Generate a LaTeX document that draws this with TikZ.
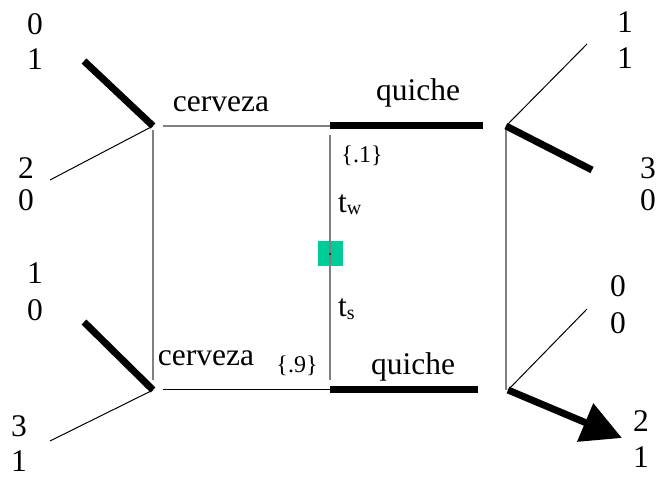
\documentclass[tikz,border=0pt]{standalone}
\usepackage{fontspec}
\setmainfont{Liberation Serif}
\usetikzlibrary{arrows.meta}
\definecolor{greensq}{RGB}{0,204,153}
\definecolor{linegray}{RGB}{128,128,128}
\begin{document}
\begin{tikzpicture}[x=1pt,y=-1pt,
  txt/.style={inner sep=0pt, font=\fontsize{31.5}{37}\selectfont},
  small/.style={inner sep=0pt, font=\fontsize{24}{28}\selectfont},
  thickline/.style={line width=7pt},
  thinline/.style={line width=1pt, black},
  grayline/.style={line width=1.5pt, linegray}]
\useasboundingbox (0,0) rectangle (659,478);
% key points
\coordinate (LT) at (153,126);
\coordinate (LB) at (153,390);
\coordinate (RT) at (506,126);
\coordinate (RB) at (508,390);
\coordinate (MT) at (330,126);
\coordinate (MB) at (330,390);
\coordinate (TL) at (163,126);
\coordinate (TR) at (483,126);
\coordinate (BL) at (163,390);
\coordinate (BR) at (478,390);
\coordinate (a1) at (84,61);
\coordinate (a2) at (50,180);
\coordinate (b1) at (84,322);
\coordinate (b2) at (50,441);
\coordinate (c1) at (587,44);
\coordinate (c2) at (592,170);
\coordinate (d1) at (587,309);
\coordinate (d2) at (622,438);
\coordinate (v1t) at (153,130);
\coordinate (v1b) at (153,380);
\coordinate (v2t) at (330,135);
\coordinate (v2b) at (330,380);
\coordinate (v3t) at (506,130);
\coordinate (v3b) at (506,390);
% nature node
\node[fill=greensq, minimum size=25pt, inner sep=0pt] (N) at (330,254) {};
% information sets (gray verticals)
\draw[grayline] (v1t) -- (v1b);
\draw[grayline] (v2t) -- (v2b);
\draw[grayline] (v3t) -- (v3b);
\fill[black] (N.center) circle (1.2pt);
% horizontal moves
\draw[grayline] (TL) -- (MT);
\draw[thickline] (MT) -- (TR);
\draw[thinline] (BL) -- (MB);
\draw[thickline] (MB) -- (BR);
% receiver moves
\draw[thickline] (a1) -- (LT);
\draw[thinline] (LT) -- (a2);
\draw[thickline] (b1) -- (LB);
\draw[thinline] (LB) -- (b2);
\draw[thinline] (RT) -- (c1);
\draw[thickline] (RT) -- (c2);
\draw[thinline] (RB) -- (d1);
\draw[thickline, -{Triangle[length=40pt,width=40pt]}] (RB) -- (d2);
% payoffs
\node[txt] (p1a) at (35,24) {0};
\node[txt] (p1b) at (35,59) {1};
\node[txt] (p2a) at (26,168) {2};
\node[txt] (p2b) at (26,200) {0};
\node[txt] (p3a) at (35,273) {1};
\node[txt] (p3b) at (35,310) {0};
\node[txt] (p4a) at (19,426) {3};
\node[txt] (p4b) at (19,461) {1};
\node[txt] (p5a) at (625,22) {1};
\node[txt] (p5b) at (625,58) {1};
\node[txt] (p6a) at (648,168) {3};
\node[txt] (p6b) at (648,200) {0};
\node[txt] (p7a) at (618,286) {0};
\node[txt] (p7b) at (618,323) {0};
\node[txt] (p8a) at (641,421) {2};
\node[txt] (p8b) at (641,457) {1};
% labels
\node[txt, anchor=base] (l1) at (221,112) {cerveza};
\node[txt, anchor=base] (l2) at (418,101) {quiche};
\node[txt, anchor=base] (l3) at (206,366) {cerveza};
\node[txt, anchor=base] (l4) at (413,375) {quiche};
\node[small] (pr1) at (362,156) {\{.1\}};
\node[small] (pr2) at (297,366) {\{.9\}};
\node[txt, anchor=base west] (tw) at (338,213) {t\raisebox{-2pt}{\fontsize{20}{20}\selectfont w}};
\node[txt, anchor=base west] (ts) at (338,317) {t\raisebox{-3pt}{\fontsize{20}{20}\selectfont s}};
\end{tikzpicture}
\end{document}
